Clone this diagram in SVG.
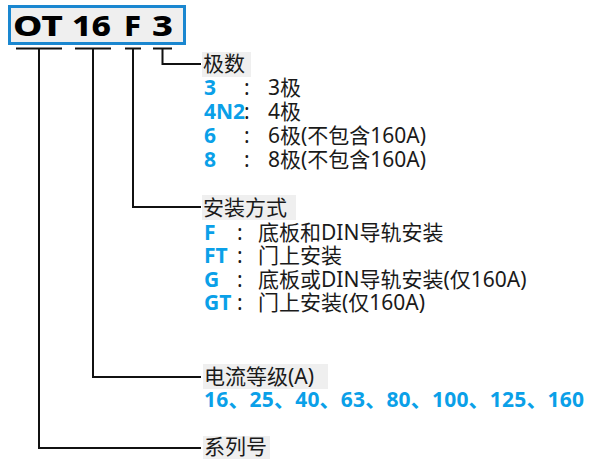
<svg xmlns="http://www.w3.org/2000/svg" width="589" height="459" viewBox="0 0 589 459">
<style>
.t{font-family:"Noto Sans","Noto Sans CJK SC",sans-serif;font-size:21px;fill:#1a1a1a}
.b{font-family:"Noto Sans","Noto Sans CJK SC",sans-serif;font-size:21px;font-weight:700;fill:#0aa0e8}
.h{font-family:"Noto Sans",sans-serif;font-size:29px;font-weight:800;fill:#000}
.lab{fill:#efefef}
.ln{stroke:#111;stroke-width:2;fill:none}
</style>
<rect width="589" height="459" fill="#fff"/>
<g id="code">
<rect x="9.5" y="6.5" width="175" height="37" fill="#efefef" stroke="#1a87d0" stroke-width="3"/>
<text class="h" x="13" y="36" textLength="50" lengthAdjust="spacingAndGlyphs">OT</text>
<text class="h" x="72" y="36" textLength="39" lengthAdjust="spacingAndGlyphs">16</text>
<text class="h" x="124" y="36" textLength="17" lengthAdjust="spacingAndGlyphs">F</text>
<text class="h" x="152" y="36" textLength="21" lengthAdjust="spacingAndGlyphs">3</text>
</g>
<g id="connectors">
<path class="ln" d="M16 48.5H62M75 48.5H111M125 48.5H141M153 48.5H172"/>
<path class="ln" d="M39 48.5V448H201"/>
<path class="ln" d="M93 48.5V377H201"/>
<path class="ln" d="M133 48.5V207H201"/>
<path class="ln" d="M162.5 48.5V64H201"/>
</g>
<g id="poles">
<rect class="lab" x="202" y="52" width="49" height="25"/>
<text class="t" x="203" y="71">极数</text>
<text class="b" x="204" y="95">3</text><text class="t" x="244" y="95">:</text><text class="t" x="268" y="95">3极</text>
<text class="b" x="204" y="119">4N2</text><text class="t" x="244" y="119">:</text><text class="t" x="268" y="119">4极</text>
<text class="b" x="204" y="143">6</text><text class="t" x="244" y="143">:</text><text class="t" x="268" y="143">6极(不包含160A)</text>
<text class="b" x="204" y="167">8</text><text class="t" x="244" y="167">:</text><text class="t" x="268" y="167">8极(不包含160A)</text>
</g>
<g id="mounting">
<rect class="lab" x="202" y="195" width="94" height="25"/>
<text class="t" x="203" y="215">安装方式</text>
<text class="b" x="204" y="240">F</text><text class="t" x="237" y="240">:</text><text class="t" x="258" y="240">底板和DIN导轨安装</text>
<text class="b" x="204" y="263">FT</text><text class="t" x="237" y="263">:</text><text class="t" x="258" y="263">门上安装</text>
<text class="b" x="204" y="287">G</text><text class="t" x="237" y="287">:</text><text class="t" x="258" y="287">底板或DIN导轨安装(仅160A)</text>
<text class="b" x="204" y="310">GT</text><text class="t" x="237" y="310">:</text><text class="t" x="258" y="310">门上安装(仅160A)</text>
</g>
<g id="current">
<rect class="lab" x="203" y="364" width="125" height="25"/>
<text class="t" x="204" y="384">电流等级(A)</text>
<text class="b" x="204" y="407" textLength="380">16、25、40、63、80、100、125、160</text>
</g>
<g id="series">
<rect class="lab" x="203" y="436" width="67" height="23"/>
<text class="t" x="204" y="454">系列号</text>
</g>
</svg>
